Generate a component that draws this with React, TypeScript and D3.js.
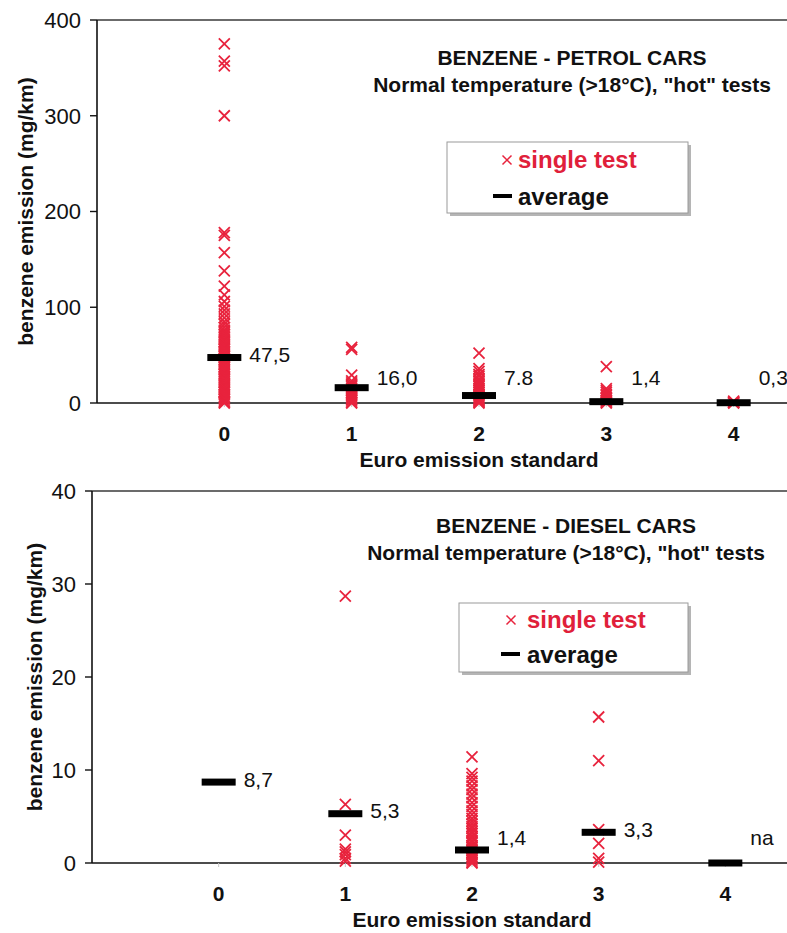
import React from 'react';
import * as d3 from 'd3';

// ---------- DATA ----------
const categories = [0, 1, 2, 3, 4];
const categoryLabels = ['0', '1', '2', '3', '4'];

// Petrol cars, single tests (mg/km) per Euro standard
const petrolTestsEuro0 = [375, 357, 352, 300, 178, 175, 157, 138, 122, 113, 106, 101, 97, 93, 89, 85, 82, 79, 76, 74, 72, 70, 68, 66, 64, 63, 61, 59, 57, 56, 54, 52, 50, 49, 47, 45, 44, 42, 40, 38, 37, 35, 33, 31, 30, 28, 26, 25, 23, 21, 19, 18, 16, 14, 12, 11, 9, 7, 5, 4, 2, 1, 0];
const petrolTestsEuro1 = [58, 56, 29, 23, 21, 19, 17, 15, 13, 11, 9, 8, 6, 4, 3, 1, 0];
const petrolTestsEuro2 = [52, 36, 33, 30, 28, 25, 23, 21, 19, 17, 15, 13, 11, 9, 8, 6, 4, 3, 2, 1, 0];
const petrolTestsEuro3 = [38, 15, 13, 11, 9, 8, 6, 5, 3, 2, 1, 0];
const petrolTestsEuro4 = [2, 1, 0.5, 0];
const petrolAverages = [47.5, 16.0, 7.8, 1.4, 0.3];
const petrolAverageLabels = ['47,5', '16,0', '7.8', '1,4', '0,3'];
const petrolYTicks = [0, 100, 200, 300, 400];

// Diesel cars
const dieselTestsEuro0: number[] = [];
const dieselTestsEuro1 = [28.7, 6.3, 3.0, 1.5, 1.2, 0.9, 0.5, 0.2];
const dieselTestsEuro2 = [11.4, 9.6, 9.2, 8.8, 8.3, 7.9, 7.4, 7.0, 6.5, 6.1, 5.6, 5.2, 4.8, 4.5, 4.2, 3.9, 3.7, 3.4, 3.2, 2.9, 2.7, 2.4, 2.2, 1.9, 1.7, 1.5, 1.3, 1.1, 0.9, 0.7, 0.5, 0.3, 0.1, 0];
const dieselTestsEuro3 = [15.7, 11.0, 3.6, 2.1, 0.5, 0.1];
const dieselTestsEuro4: number[] = [];
const dieselAverages = [8.7, 5.3, 1.4, 3.3, 0];
const dieselAverageLabels = ['8,7', '5,3', '1,4', '3,3', 'na'];
const dieselYTicks = [0, 10, 20, 30, 40];

const petrolTests = [petrolTestsEuro0, petrolTestsEuro1, petrolTestsEuro2, petrolTestsEuro3, petrolTestsEuro4];
const dieselTests = [dieselTestsEuro0, dieselTestsEuro1, dieselTestsEuro2, dieselTestsEuro3, dieselTestsEuro4];

// ---------- STYLE ----------
const FONT = '"Liberation Sans", Arial, Helvetica, sans-serif';
const RED = '#e8233d';
const LEGEND_RED = '#e0203a';

const xPath = (r: number) => `M${-r},${-r}L${r},${r}M${-r},${r}L${r},${-r}`;

type PanelProps = {
  tests: number[][];
  averages: number[];
  avgLabels: string[];
  yTicks: number[];
  left: number;
  right: number;
  top: number;
  bottom: number;
  title: string;
  subtitle: string;
  titleX: number;
  titleY: number;
  yTitleX: number;
  xTitleY: number;
  legend: { x: number; y: number; w: number; h: number; markerX: number; markerY: number; textX: number; text1Y: number; lineX1: number; lineX2: number; lineY: number; text2Y: number };
};

function Panel(p: PanelProps) {
  const x = d3.scaleLinear().domain([-1, 5]).range([p.left, p.right]);
  const yMax = d3.max(p.yTicks) as number;
  const y = d3.scaleLinear().domain([0, yMax]).range([p.bottom, p.top]);
  const barHalf = 17;
  const plotCenter = (p.left + p.right) / 2;
  const L = p.legend;

  return (
    <g fontFamily={FONT}>
      {/* frame */}
      <line x1={p.left} x2={p.right} y1={p.top} y2={p.top} stroke="#3a3a3a" strokeWidth={1.6} />
      <line x1={p.right} x2={p.right} y1={p.top} y2={p.bottom} stroke="#3a3a3a" strokeWidth={1.6} />
      {/* y axis */}
      <line x1={p.left} x2={p.left} y1={p.top} y2={p.bottom} stroke="#111" strokeWidth={1.6} />
      {p.yTicks.map((t) => (
        <g key={'yt' + t}>
          <line x1={p.left - 7} x2={p.left} y1={y(t)} y2={y(t)} stroke="#111" strokeWidth={1.4} />
          <text x={p.left - 16} y={y(t)} dy="0.36em" textAnchor="end" fontSize={22} fill="#111">{t}</text>
        </g>
      ))}
      {/* x axis */}
      <line x1={p.left} x2={p.right} y1={y(0)} y2={y(0)} stroke="#111" strokeWidth={1.6} />
      {categories.map((c, i) => (
        <g key={'xt' + c}>
          <line x1={x(c)} x2={x(c)} y1={y(0)} y2={y(0) + 4} stroke="#c8c8c8" strokeWidth={1} />
          <text x={x(c)} y={y(0) + 38} textAnchor="middle" fontSize={21} fontWeight="bold" fill="#111">{categoryLabels[i]}</text>
        </g>
      ))}
      <text x={plotCenter} y={p.xTitleY} textAnchor="middle" fontSize={21} fontWeight="bold" fill="#111">Euro emission standard</text>
      <text transform={`translate(${p.yTitleX},${(p.top + p.bottom) / 2}) rotate(-90)`} textAnchor="middle" fontSize={21} fontWeight="bold" fill="#111">benzene emission (mg/km)</text>

      {/* titles */}
      <text x={p.titleX} y={p.titleY} textAnchor="middle" fontSize={21} fontWeight="bold" fill="#111">{p.title}</text>
      <text x={p.titleX} y={p.titleY + 27} textAnchor="middle" fontSize={21} fontWeight="bold" fill="#111">{p.subtitle}</text>

      {/* single tests */}
      {p.tests.map((vals, i) =>
        vals.map((v, j) => (
          <path key={`m${i}-${j}`} d={xPath(5.5)} transform={`translate(${x(categories[i])},${y(v)})`} stroke={RED} strokeWidth={1.8} fill="none" />
        ))
      )}
      {/* averages */}
      {p.averages.map((a, i) => (
        <rect key={'a' + i} x={x(categories[i]) - barHalf} y={y(a) - 3.5} width={barHalf * 2} height={7} fill="#000" />
      ))}
      {p.averages.map((a, i) => (
        <text key={'al' + i} x={x(categories[i]) + 25} y={Math.min(y(a) - 3, y(0) - 26)} dy="0.36em" fontSize={21} fill="#111">{p.avgLabels[i]}</text>
      ))}

      {/* legend */}
      <rect x={L.x + 3} y={L.y + 3} width={L.w} height={L.h} fill="#b5b5b5" />
      <rect x={L.x} y={L.y} width={L.w} height={L.h} fill="#fff" stroke="#9a9a9a" strokeWidth={1} />
      <path d={xPath(4.5)} transform={`translate(${L.markerX},${L.markerY})`} stroke={RED} strokeWidth={1.5} fill="none" />
      <text x={L.textX} y={L.text1Y} fontSize={24} fontWeight="bold" fill={LEGEND_RED}>single test</text>
      <line x1={L.lineX1} x2={L.lineX2} y1={L.lineY} y2={L.lineY} stroke="#000" strokeWidth={4} />
      <text x={L.textX} y={L.text2Y} fontSize={24} fontWeight="bold" fill="#111">average</text>
    </g>
  );
}

export default function App() {
  return (
    <svg width={787} height={933} style={{ position: 'absolute', left: 0, top: 0, background: '#fff' }}>
      <rect x={0} y={0} width={787} height={933} fill="#fff" />
      <Panel
        tests={petrolTests}
        averages={petrolAverages}
        avgLabels={petrolAverageLabels}
        yTicks={petrolYTicks}
        left={97}
        right={861}
        top={20}
        bottom={403}
        title="BENZENE - PETROL CARS"
        subtitle={'Normal temperature (>18°C), "hot" tests'}
        titleX={572}
        titleY={65}
        yTitleX={33}
        xTitleY={467}
        legend={{ x: 447, y: 142, w: 241, h: 71, markerX: 507, markerY: 160, textX: 518, text1Y: 168, lineX1: 493, lineX2: 512, lineY: 196, text2Y: 205 }}
      />
      <Panel
        tests={dieselTests}
        averages={dieselAverages}
        avgLabels={dieselAverageLabels}
        yTicks={dieselYTicks}
        left={92}
        right={852}
        top={491}
        bottom={863}
        title="BENZENE - DIESEL CARS"
        subtitle={'Normal temperature (>18°C), "hot" tests'}
        titleX={566}
        titleY={533}
        yTitleX={42}
        xTitleY={927}
        legend={{ x: 459, y: 603, w: 229, h: 69, markerX: 511, markerY: 620, textX: 527, text1Y: 628, lineX1: 501, lineX2: 520, lineY: 654, text2Y: 663 }}
      />
    </svg>
  );
}
